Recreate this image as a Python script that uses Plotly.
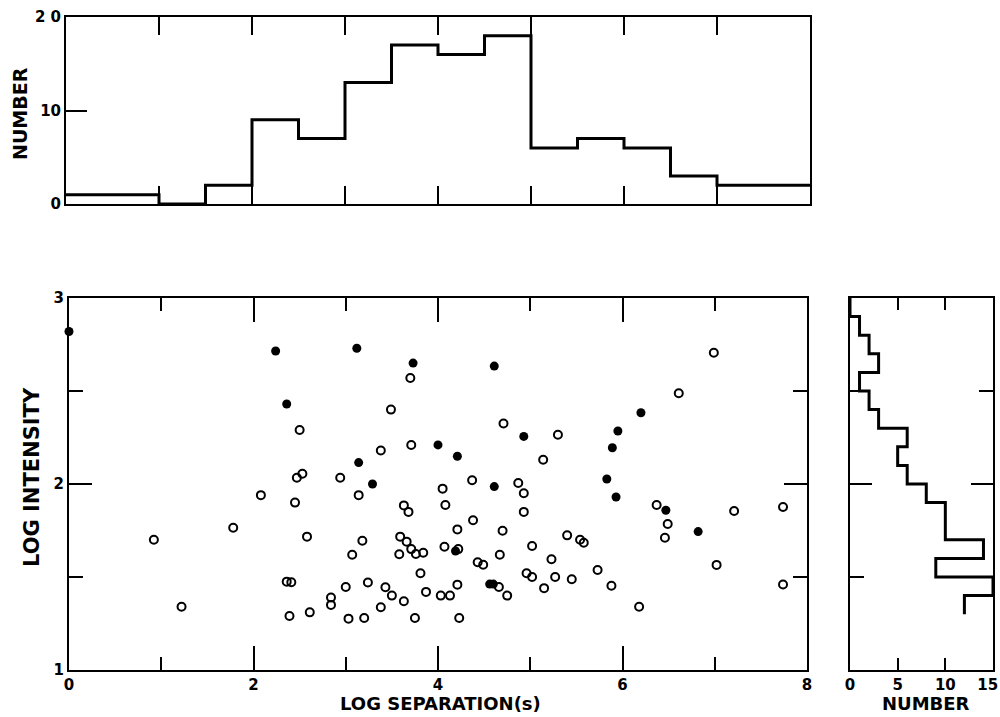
import plotly.graph_objects as go

# ---------------- data ----------------
# Top histogram (LOG SEPARATION)
sep_edges = [0, 1, 1.5, 2, 2.5, 3, 3.5, 4, 4.5, 5, 5.5, 6, 6.5, 7, 8]
sep_counts = [1, 0, 2, 9, 7, 13, 17, 16, 18, 6, 7, 6, 3, 2]

# Right histogram (LOG INTENSITY), bins from top to bottom
int_edges = [3.0, 2.9, 2.8, 2.7, 2.6, 2.5, 2.4, 2.3, 2.2, 2.1, 2.0,
             1.9, 1.8, 1.7, 1.6, 1.5, 1.4, 1.3]
int_counts = [0, 1, 2, 3, 1, 2, 3, 6, 5, 6, 8, 10, 10, 14, 9, 15, 12]

# Scatter: filled circles
filled_x = [0.00, 2.24, 3.12, 3.73, 2.36, 4.00, 3.14, 3.29, 4.61, 6.20, 4.93,
            4.21, 5.95, 5.89, 5.83, 4.61, 5.93, 6.47, 6.82, 4.19, 4.56, 4.60]
filled_y = [2.82, 2.715, 2.73, 2.65, 2.43, 2.21, 2.115, 2.00, 2.634, 2.383, 2.256,
            2.149, 2.285, 2.195, 2.027, 1.986, 1.93, 1.859, 1.744, 1.64, 1.462, 1.462]

# Scatter: open circles
open_x = [3.70, 3.49, 2.50, 3.38, 3.71, 2.47, 2.53, 2.94, 4.05,
          2.08, 3.14, 2.45, 3.63, 3.68, 4.08, 1.78, 0.92, 2.58, 3.18, 3.59,
          3.66, 3.71, 3.76, 3.84, 3.58, 3.07, 4.07, 3.81, 2.36, 2.41, 3.24,
          3.00, 3.43, 3.50, 3.87, 4.03, 4.13, 2.84, 2.84, 3.63, 1.22, 3.38,
          2.39, 2.61, 3.03, 3.20, 3.75,
          6.61, 6.99, 4.71, 5.30, 5.14, 4.37, 4.87,
          4.93, 4.93, 6.37, 7.21, 7.74, 4.38, 4.21, 4.70, 6.49, 6.46, 5.40,
          5.54, 5.58, 5.02, 4.22, 4.67, 4.43, 4.49, 5.23, 5.73, 4.96, 5.02,
          5.27, 5.45, 7.02, 7.74, 5.88, 4.66, 4.21, 4.75, 5.15, 6.18, 4.23]
open_y = [2.57, 2.40, 2.29, 2.18, 2.21, 2.034, 2.055, 2.034, 1.975,
          1.94, 1.94, 1.90, 1.885, 1.85, 1.887, 1.765, 1.70, 1.717, 1.695, 1.717,
          1.69, 1.65, 1.624, 1.63, 1.622, 1.62, 1.663, 1.52, 1.475, 1.472, 1.47,
          1.446, 1.445, 1.40, 1.42, 1.40, 1.40, 1.39, 1.35, 1.37, 1.34, 1.337,
          1.29, 1.31, 1.276, 1.28, 1.28,
          2.488, 2.706, 2.325, 2.265, 2.13, 2.02, 2.005,
          1.95, 1.85, 1.887, 1.855, 1.876, 1.805, 1.756, 1.749, 1.785, 1.711, 1.724,
          1.70, 1.684, 1.667, 1.65, 1.62, 1.579, 1.566, 1.595, 1.538, 1.52, 1.50,
          1.50, 1.488, 1.565, 1.46, 1.453, 1.446, 1.459, 1.40, 1.44, 1.34, 1.28]

sep_major = [0, 2, 4, 6, 8]
sep_minor = [1, 3, 5, 7]
int_major = [1, 2, 3]
int_minor = [1.5, 2.5]
num_ticks = [0, 5, 10, 15]
num_labels = ["0", "5", "10", "15\u00a0\u00a0"]

# ---------------- figure ----------------
W, H = 1000, 717
FONT = dict(family="DejaVu Sans", size=15, color="black", weight="bold")
TITLE_FONT = dict(family="DejaVu Sans", size=18, color="black", weight="bold")


def px_x(a, b):
    return [a / W, b / W]


def px_y(top, bottom):
    return [1 - bottom / H, 1 - top / H]


base = dict(showline=True, linecolor="black", linewidth=2, showgrid=False,
            zeroline=False, ticks="inside", tickcolor="black", tickwidth=2,
            tickfont=FONT, automargin=False, fixedrange=True,
            ticklabeloverflow="allow")

fig = go.Figure()

# top histogram
fig.add_trace(go.Scatter(x=sep_edges, y=sep_counts + [sep_counts[-1]],
                         mode="lines", line=dict(shape="hv", color="black", width=3),
                         xaxis="x", yaxis="y", cliponaxis=False))

# scatter
fig.add_trace(go.Scatter(x=open_x, y=open_y, mode="markers",
                         marker=dict(symbol="circle-open", size=8, color="black",
                                     line=dict(width=2, color="black")),
                         xaxis="x2", yaxis="y2", cliponaxis=False))
fig.add_trace(go.Scatter(x=filled_x, y=filled_y, mode="markers",
                         marker=dict(symbol="circle", size=9, color="black"),
                         xaxis="x2", yaxis="y2", cliponaxis=False))

# right histogram
fig.add_trace(go.Scatter(x=int_counts + [int_counts[-1]], y=int_edges,
                         mode="lines", line=dict(shape="vh", color="black", width=3),
                         xaxis="x3", yaxis="y3", cliponaxis=False))

fig.update_layout(
    width=W, height=H, margin=dict(l=0, r=0, t=0, b=0),
    paper_bgcolor="white", plot_bgcolor="white", showlegend=False,
    template="none",
    xaxis=dict(base, domain=px_x(66, 810), anchor="y", range=[0, 8],
               tickvals=[1, 2, 3, 4, 5, 6, 7], ticklen=18, showticklabels=False,
               mirror="ticks"),
    yaxis=dict(base, domain=px_y(17, 204), anchor="x", range=[0, 20],
               tickvals=[0, 10, 20], ticktext=["0", "10", "2 0"], ticklen=21,
               mirror=True),
    xaxis2=dict(base, domain=px_x(69, 807), anchor="y2", range=[0, 8],
                tickvals=sep_major, ticklen=24, mirror="ticks",
                minor=dict(tickvals=sep_minor, ticklen=13, ticks="inside",
                           tickcolor="black", tickwidth=2)),
    yaxis2=dict(base, domain=px_y(298, 670), anchor="x2", range=[1, 3],
                tickvals=int_major, ticklen=23, mirror="ticks",
                minor=dict(tickvals=int_minor, ticklen=14, ticks="inside",
                           tickcolor="black", tickwidth=2)),
    xaxis3=dict(base, domain=px_x(850, 993), anchor="y3", range=[0, 15],
                tickvals=num_ticks, ticktext=num_labels, ticklen=12,
                mirror="ticks"),
    yaxis3=dict(base, domain=px_y(298, 670), anchor="x3", range=[1, 3],
                tickvals=[2], ticklen=22, mirror="ticks", showticklabels=False,
                minor=dict(tickvals=int_minor, ticklen=14, ticks="inside",
                           tickcolor="black", tickwidth=2)),
    annotations=[
        dict(text="LOG SEPARATION(s)", x=440 / W, y=1 - 716 / H, xref="paper",
             yref="paper", showarrow=False, font=TITLE_FONT,
             xanchor="center", yanchor="bottom"),
        dict(text="NUMBER", x=926 / W, y=1 - 716 / H, xref="paper",
             yref="paper", showarrow=False, font=TITLE_FONT,
             xanchor="center", yanchor="bottom"),
        dict(text="NUMBER", x=20 / W, y=1 - 114 / H, xref="paper",
             yref="paper", showarrow=False, font=dict(TITLE_FONT, size=19),
             textangle=-90, xanchor="center", yanchor="middle"),
        dict(text="LOG INTENSITY", x=32 / W, y=1 - 477 / H, xref="paper",
             yref="paper", showarrow=False,
             font=dict(TITLE_FONT, size=21), textangle=-90,
             xanchor="center", yanchor="middle"),
    ],
)

fig.write_html("out.html",
               config={"displayModeBar": False},
               post_script="document.body.style.margin='0px';"
                           "document.body.style.overflow='hidden';")
